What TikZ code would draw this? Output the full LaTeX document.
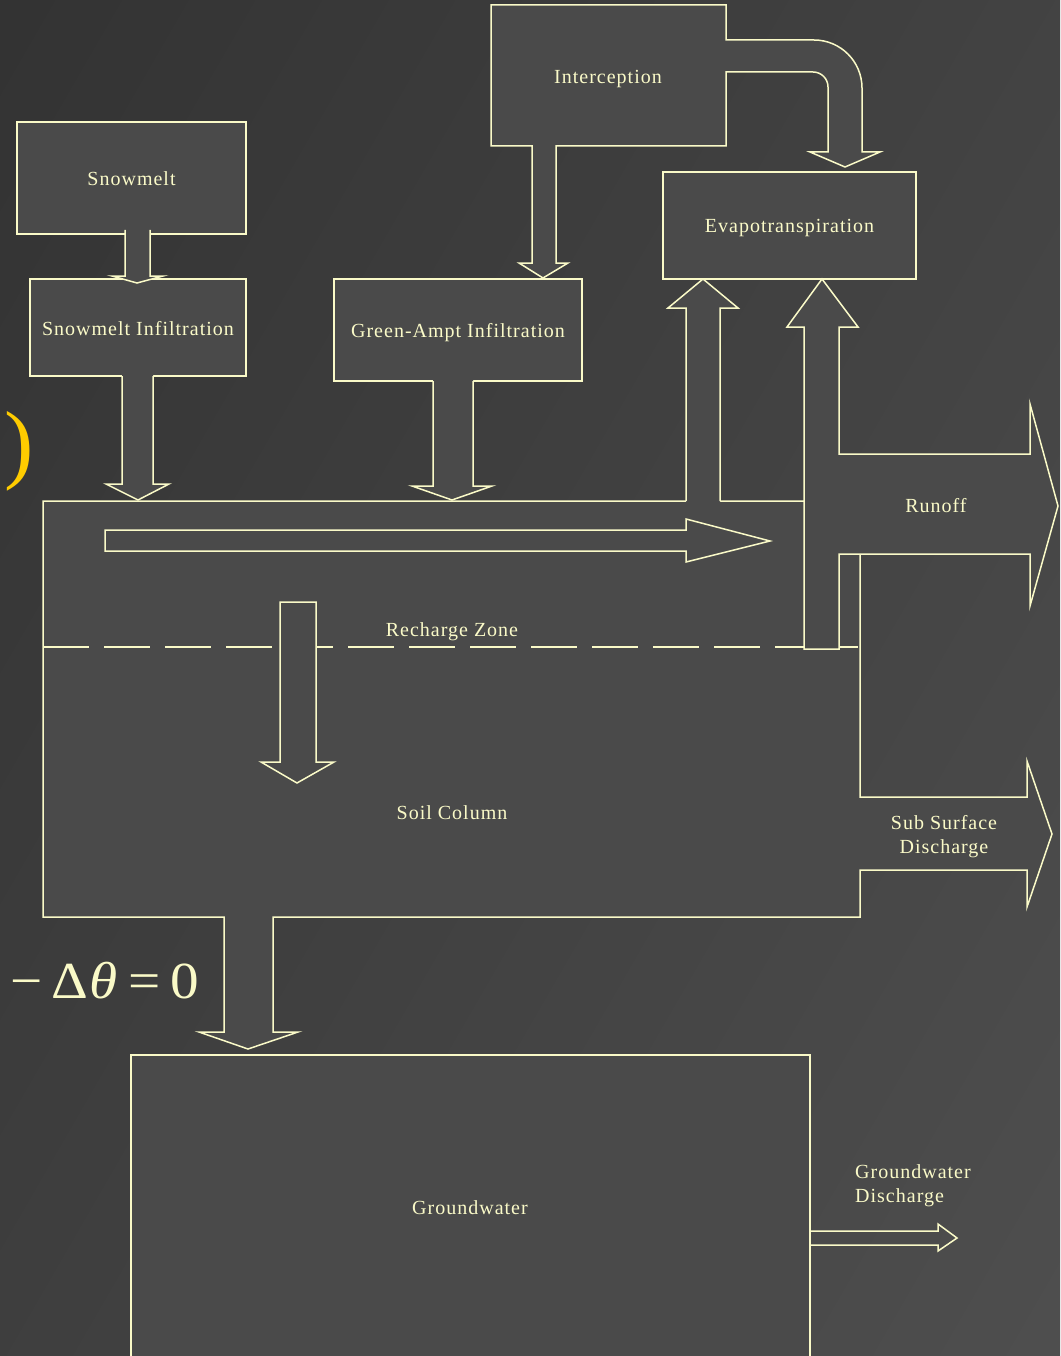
\documentclass[tikz,border=0pt]{standalone}
\usepackage{fontspec}
\usepackage{graphicx}
\setmainfont{Liberation Serif}
\newfontfamily\lblfont[LetterSpace=5]{Liberation Serif}
\begin{document}
\begin{tikzpicture}[x=1pt,y=-1pt,line join=miter]
\definecolor{bgL}{HTML}{333333}
\definecolor{bgR}{HTML}{4E4E4E}
\definecolor{boxc}{HTML}{4A4A4A}
\definecolor{lnc}{HTML}{FAFAC8}
\definecolor{gold}{HTML}{FFCC00}
\tikzset{
  ln/.style={draw=lnc,line width=1.5pt},
  blk/.style={ln,fill=boxc},
  lbl/.style={text=lnc,font=\lblfont\fontsize{20}{24}\selectfont,inner sep=0pt},
  tag/.style={lbl,anchor=base},
  boxnode/.style={blk,lbl,minimum width=#1,text height=17pt,text depth=2pt},
}
\useasboundingbox (0,0) rectangle (1060,1356);
\clip (0,0) rectangle (1060,1356);
% backdrop
\shade[top color=bgL,bottom color=bgR,shading angle=60] (-200,-200) rectangle (1260,1556);

% interception box merged with its two outlets
\draw[blk] (491,5) -- (726,5) -- (726,40) -- (814,40)
  .. controls (840.5,40) and (862,61.5) .. (862,88) -- (862,152) -- (880,152)
  -- (845,167) -- (810,152) -- (828,152) -- (828,87)
  .. controls (828,78.7) and (821.3,72) .. (813,72) -- (726,72) -- (726,146)
  -- (556,146) -- (556,263) -- (568,263) -- (543,278) -- (519,263) -- (532,263)
  -- (532,146) -- (491,146) -- cycle;
\node[tag] (icpt) at (608,83.5) {Interception};

% process boxes
\node[boxnode=229pt,minimum height=112pt] (snow) at (131.5,178) {Snowmelt};
\node[boxnode=253pt,minimum height=107pt] (evap) at (789.5,225.5) {Evapotranspiration};
\node[boxnode=216pt,minimum height=97pt] (sinf) at (138,327.5) {Snowmelt Infiltration};
\node[boxnode=248pt,minimum height=102pt] (ga) at (458,330) {Green-Ampt Infiltration};

% soil column with sub-surface outlet and drain to groundwater
\draw[blk] (43,501) -- (822,501) -- (822,554) -- (860,554) -- (860,797)
  -- (1027,797) -- (1027,761) -- (1052,834) -- (1027,907) -- (1027,870)
  -- (860,870) -- (860,917) -- (273,917) -- (273,1032) -- (298,1032)
  -- (248,1049) -- (199,1032) -- (224,1032) -- (224,917) -- (43,917) -- cycle;
\draw[ln,dash pattern=on 46pt off 15pt] (43,647) -- (858,647);

% runoff: rising shaft to evapotranspiration and outflow to the right
\draw[blk] (804,649) -- (804,327) -- (787,327) -- (822,279) -- (858,327)
  -- (839,327) -- (839,454) -- (1030,454) -- (1030,404) -- (1058,506)
  -- (1030,606) -- (1030,554) -- (839,554) -- (839,649) -- cycle;
\node[tag] (runoff) at (936,512.5) {Runoff};

% lateral flow and recharge inside the column
\draw[blk] (105,530) -- (686,530) -- (686,519) -- (770,541) -- (686,562)
  -- (686,551) -- (105,551) -- cycle;
\draw[blk] (280,602) -- (316,602) -- (316,762) -- (334,762) -- (297,783)
  -- (261,762) -- (280,762) -- cycle;
\node[tag] (rz) at (452,636.5) {Recharge Zone};
\node[tag] (soil) at (452,819.5) {Soil Column};
\node[tag] (ssd1) at (944,829.5) {Sub Surface};
\node[tag] (ssd2) at (944,853.5) {Discharge};

% evaporation from the column top
\fill[boxc] (686,502.5) -- (686,308) -- (668,308) -- (703,279) -- (738,308) -- (720,308) -- (720,502.5) -- cycle;
\draw[ln] (686,501) -- (686,308) -- (668,308) -- (703,279) -- (738,308) -- (720,308) -- (720,501);

% snowmelt to infiltration
\fill[boxc] (125,230) -- (125,276) -- (112,276) -- (137,283) -- (163,276) -- (150,276) -- (150,230) -- cycle;
\draw[ln] (125,230) -- (125,276) -- (112,276) -- (137,283) -- (163,276) -- (150,276) -- (150,230);

% infiltration into the column
\fill[boxc] (122,374.5) -- (122,484) -- (106,484) -- (138,500) -- (169,484) -- (153,484) -- (153,374.5) -- cycle;
\draw[ln] (122,376) -- (122,484) -- (106,484) -- (138,500) -- (169,484) -- (153,484) -- (153,376);
\fill[boxc] (433,379.5) -- (433,486) -- (412,486) -- (452,500) -- (492,486) -- (473,486) -- (473,379.5) -- cycle;
\draw[ln] (433,381) -- (433,486) -- (412,486) -- (452,500) -- (492,486) -- (473,486) -- (473,381);

% groundwater store
\draw[blk] (131,1420) -- (131,1055) -- (810,1055) -- (810,1420);
\node[tag] (gw) at (470,1214.5) {Groundwater};
\draw[ln] (810,1231) -- (938,1231) -- (938,1224) -- (957,1238) -- (938,1251) -- (938,1245) -- (810,1245);
\node[lbl,anchor=base west] (gwd1) at (855,1178.3) {Groundwater};
\node[lbl,anchor=base west] (gwd2) at (855,1202.3) {Discharge};

% fragments of the surrounding equation
\node[text=gold,font=\fontsize{88}{88}\selectfont,inner sep=0pt,anchor=base west] (paren) at (4,472) {)};
\node[text=lnc,font=\fontsize{52}{52}\selectfont,inner sep=0pt,anchor=base west] (eqn) at (10,998)
  {\scalebox{1.1}[1]{−\,Δ\kern1pt\textit{θ}\kern1pt\,=\,0}};
\end{tikzpicture}
\end{document}
